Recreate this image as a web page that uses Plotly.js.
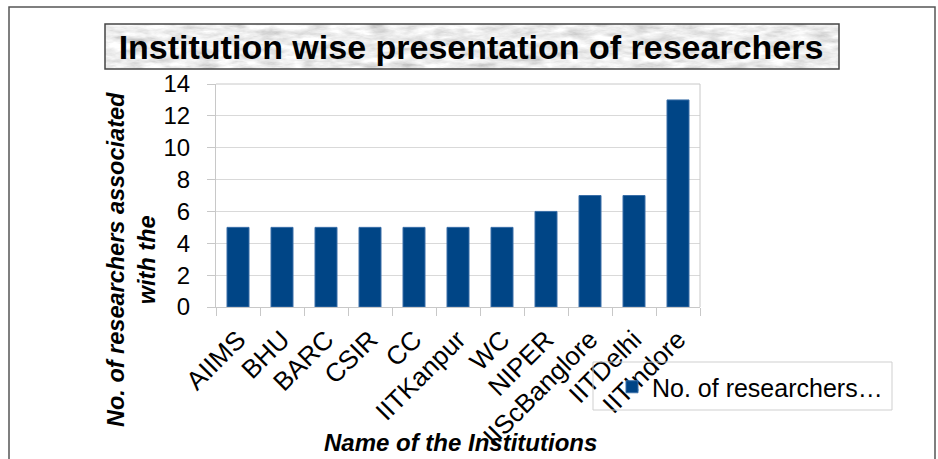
<!DOCTYPE html>
<html>
<head>
<meta charset="utf-8">
<script src="https://cdn.plot.ly/plotly-3.0.1.min.js"></script>
<style>
html,body{margin:0;padding:0;background:#fff;}
#chart{width:938px;height:459px;}
</style>
</head>
<body>
<div id="chart"></div>
<script>
// Data
const institutions = ["AIIMS","BHU","BARC","CSIR","CC","IITKanpur","WC","NIPER","IIScBanglore","IITDelhi","IITIndore"];
const researchers = [5,5,5,5,5,5,5,6,7,7,13];
const seriesName = "No. of researchers…";
const chartTitle = "Institution wise presentation of researchers";
const yTitle = "No. of researchers associated<br>with the";
const xTitle = "Name of the Institutions";
const yTicks = [0,2,4,6,8,10,12,14];

// Decorative marble-like texture for title box
const texSvg = '<svg xmlns="http://www.w3.org/2000/svg" width="740" height="46">' +
  '<filter id="f" x="0" y="0" width="100%" height="100%">' +
  '<feTurbulence type="fractalNoise" baseFrequency="0.045 0.15" numOctaves="4" seed="7"/>' +
  '<feColorMatrix type="matrix" values="0.33 0.33 0.33 0 0  0.33 0.33 0.33 0 0  0.33 0.33 0.33 0 0  0 0 0 0 1"/>' +
  '<feComponentTransfer><feFuncR type="linear" slope="1.3" intercept="0.2"/><feFuncG type="linear" slope="1.3" intercept="0.2"/><feFuncB type="linear" slope="1.3" intercept="0.2"/></feComponentTransfer>' +
  '</filter><rect width="740" height="46" filter="url(#f)"/></svg>';
const texUri = 'data:image/svg+xml;base64,' + btoa(texSvg);

const W = 938, H = 459;
const L = 216, R = 700, T = 84, B = 307;
const px = x => (x - L) / (R - L);
const py = y => (B - y) / (B - T);

const trace = {
  type: 'bar',
  x: institutions,
  y: researchers,
  name: seriesName,
  marker: {color: '#004586', line: {color: '#3a6fa8', width: 1}},
  showlegend: true
};

const layout = {
  width: W, height: H,
  margin: {l: L, r: W - R, t: T, b: H - B, pad: 0},
  paper_bgcolor: '#ffffff',
  plot_bgcolor: '#ffffff',
  font: {family: 'Liberation Sans, Arial, sans-serif', color: '#000'},
  bargap: 0.5,
  title: {
    text: '<b>' + chartTitle + '</b>',
    font: {size: 34, color: '#000', family: 'Liberation Sans, Arial, sans-serif'},
    x: 471 / W, xanchor: 'center', xref: 'container',
    y: 1 - 47 / H, yanchor: 'middle', yref: 'container'
  },
  xaxis: {
    type: 'category',
    tickangle: -45,
    tickfont: {size: 26, color: '#000'},
    showline: true, linecolor: '#c8c8c8', linewidth: 1,
    ticks: 'outside', tickson: 'boundaries', ticklen: 8, tickcolor: '#c8c8c8',
    ticklabelstandoff: 6,
    showgrid: false, mirror: false, automargin: false
  },
  yaxis: {
    range: [0, 14],
    tickvals: yTicks,
    tickfont: {size: 24, color: '#000'},
    showgrid: true, gridcolor: '#d9d9d9', gridwidth: 1,
    showline: true, linecolor: '#c8c8c8', linewidth: 1,
    ticks: 'outside', ticklen: 8, tickcolor: '#c8c8c8',
    zeroline: false, automargin: false,
    ticklabelstandoff: 12
  },
  legend: {
    x: px(612), y: py(387), xanchor: 'left', yanchor: 'middle',
    xref: 'paper', yref: 'paper',
    bgcolor: 'rgba(255,255,255,0)',
    borderwidth: 0,
    font: {size: 25, color: '#000'},
    itemwidth: 30
  },
  shapes: [
    // outer chart border
    {type: 'rect', xref: 'paper', yref: 'paper', x0: px(9), x1: px(935), y0: py(480), y1: py(7),
     line: {color: '#555555', width: 1.5}, fillcolor: 'rgba(0,0,0,0)', layer: 'below'},
    // plot area border top/right
    {type: 'line', xref: 'paper', yref: 'paper', x0: 0, x1: 1, y0: 1, y1: 1, line: {color: '#c8c8c8', width: 1}},
    {type: 'line', xref: 'paper', yref: 'paper', x0: 1, x1: 1, y0: 0, y1: 1, line: {color: '#c8c8c8', width: 1}},
    // title box border
    {type: 'rect', xref: 'paper', yref: 'paper', x0: px(105), x1: px(839), y0: py(69), y1: py(24),
     line: {color: '#444444', width: 1.5}, fillcolor: 'rgba(0,0,0,0)'},
    // legend box
    {type: 'rect', xref: 'paper', yref: 'paper', x0: px(593), x1: px(892), y0: py(410), y1: py(362),
     line: {color: '#cfcfcf', width: 1}, fillcolor: 'rgba(0,0,0,0)'}
  ],
  images: [
    {source: texUri, xref: 'paper', yref: 'paper', x: px(105), y: py(24),
     sizex: px(839) - px(105), sizey: py(24) - py(69), sizing: 'stretch',
     xanchor: 'left', yanchor: 'top', layer: 'below'}
  ],
  annotations: [
    {text: '<b><i>' + yTitle + '</i></b>', xref: 'paper', yref: 'paper',
     x: px(131), y: py(260), xanchor: 'center', yanchor: 'middle',
     textangle: -90, showarrow: false, align: 'center',
     font: {size: 23.5, color: '#000'}},
    {text: '<b><i>' + xTitle + '</i></b>', xref: 'paper', yref: 'paper',
     x: px(460), y: py(442), xanchor: 'center', yanchor: 'middle',
     showarrow: false, font: {size: 24, color: '#000'}}
  ]
};

Plotly.newPlot('chart', [trace], layout, {displayModeBar: false, staticPlot: true});
</script>
</body>
</html>
